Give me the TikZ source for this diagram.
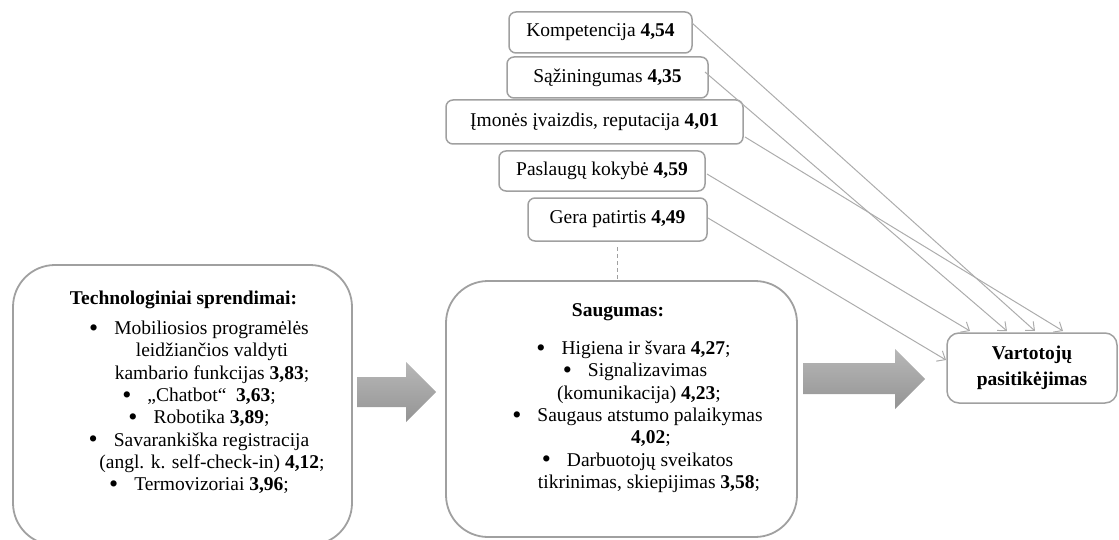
\documentclass[tikz,border=0pt]{standalone}
\usepackage{fontspec}
\setmainfont{Liberation Serif}
\usetikzlibrary{calc,arrows.meta}
\definecolor{boxgray}{RGB}{160,160,160}
\definecolor{linegray}{RGB}{172,172,172}
\newcommand{\bul}{\raisebox{-0.9pt}{\fontsize{13pt}{13pt}\selectfont\textbullet}}
\begin{document}
\begin{tikzpicture}[x=0.5pt,y=-0.5pt,
  every node/.style={inner sep=0pt, outer sep=0pt},
  txt/.style={font=\fontsize{9.75pt}{11.15pt}\selectfont},
  txtb/.style={font=\fontsize{9.75pt}{11.15pt}\selectfont\bfseries},
  topbox/.style={draw=boxgray, line width=0.75pt, rounded corners=3.5pt, fill=white, txt},
  bigbox/.style={draw=boxgray, line width=0.9pt, rounded corners=21pt, fill=white},
  link/.style={draw=linegray, line width=0.5pt, -{Straight Barb[length=3.5pt,width=6pt]}},
  blockarrow/.style={top color=black!28, bottom color=black!42, draw=none}]
\useasboundingbox (0,0) rectangle (1119,540);

% big boxes
\node[bigbox, minimum width=169.5pt, minimum height=140pt] (tech) at (182.5,405) {};
\node[bigbox, minimum width=175.5pt, minimum height=128pt] (saug) at (621.5,409) {};
\node[draw=boxgray, line width=0.75pt, rounded corners=6pt, fill=white,
      minimum width=85pt, minimum height=35pt, align=center,
      font=\fontsize{9.75pt}{13pt}\selectfont\bfseries] (vart) at (1032,368) {Vartotojų\\pasitikėjimas};

% top boxes
\node[topbox, minimum width=91.5pt, minimum height=20.5pt] (komp) at (600.5,32.5) {Kompetencija \textbf{4,54}};
\node[topbox, minimum width=100.5pt, minimum height=20.5pt] (saz) at (607.5,77.5) {Sąžiningumas \textbf{4,35}};
\node[topbox, minimum width=148.5pt, minimum height=22pt] (imon) at (594.5,122) {Įmonės įvaizdis, reputacija \textbf{4,01}};
\node[topbox, minimum width=103pt, minimum height=20pt] (pasl) at (602,171) {Paslaugų kokybė \textbf{4,59}};
\node[topbox, minimum width=89.5pt, minimum height=21.5pt] (gera) at (617.5,219.5) {Gera patirtis \textbf{4,49}};

% texts of the big boxes
\node[txtb] (techtitle) at (183.5,300) {Technologiniai sprendimai:};
\node[txt, align=center, anchor=north] (techlist) at (182.5,321) {%
\hspace*{16.5pt}\bul\hspace{8pt}Mobiliosios programėlės\\
\hspace*{29.5pt}leidžiančios valdyti\\
\hspace*{29.5pt}kambario funkcijas \textbf{3,83};\\
\hspace*{16.5pt}\bul\hspace{8pt}„Chatbot“\ \ \textbf{3,63};\\
\hspace*{16.5pt}\bul\hspace{8pt}Robotika \textbf{3,89};\\
\hspace*{16.5pt}\bul\hspace{8pt}Savarankiška registracija\\
\hspace*{29.5pt}(angl. k. self-check-in) \textbf{4,12};\\
\hspace*{16.5pt}\bul\hspace{8pt}Termovizoriai \textbf{3,96};};

\node[txtb] (saugtitle) at (618,312) {Saugumas:};
\node[txt, align=center, anchor=north] (sauglist) at (621.5,341) {%
\hspace*{12pt}\bul\hspace{8pt}Higiena ir švara \textbf{4,27};\\
\hspace*{13.5pt}\bul\hspace{8pt}Signalizavimas\\
\hspace*{17.5pt}(komunikacija) \textbf{4,23};\\
\hspace*{16pt}\bul\hspace{8pt}Saugaus atstumo palaikymas\\
\hspace*{29.5pt}\textbf{4,02};\\
\hspace*{16pt}\bul\hspace{8pt}Darbuotojų sveikatos\\
\hspace*{27.5pt}tikrinimas, skiepijimas \textbf{3,58};};

% block arrows
\shade[blockarrow] ($(tech.east)+(5,-28)$) -- ++(49,0) -- ++(0,-15) -- ++(30,30)
  -- ++(-30,30) -- ++(0,-15) -- ++(-49,0) -- cycle;
\shade[blockarrow] ($(saug.east)+(6,-46)$) -- ++(92,0) -- ++(0,-14) -- ++(30,30)
  -- ++(-30,30) -- ++(0,-15) -- ++(-92,0) -- cycle;

% dashed link
\draw[draw=boxgray, line width=0.5pt, dash pattern=on 2pt off 1.5pt]
  ($(gera.south)+(0,6)$) -- (gera.south |- saug.north);

% connectors to Vartotoju pasitikejimas
\draw[link] ($(komp.east)+(0,-9.5)$) -- ($(vart.north west)+(88,-2)$);
\draw[link] ($(saz.east)+(-3,-5.5)$) -- ($(vart.north west)+(60,-2)$);
\draw[link] ($(imon.south east)+(2,-7)$) -- ($(vart.north west)+(116,-2)$);
\draw[link] ($(pasl.east)+(2,3)$) -- ($(vart.north west)+(23,-2)$);
\draw[link] ($(gera.east)+(1,-1.5)$) -- ($(vart.west)+(-1,-8)$);
\end{tikzpicture}
\end{document}
